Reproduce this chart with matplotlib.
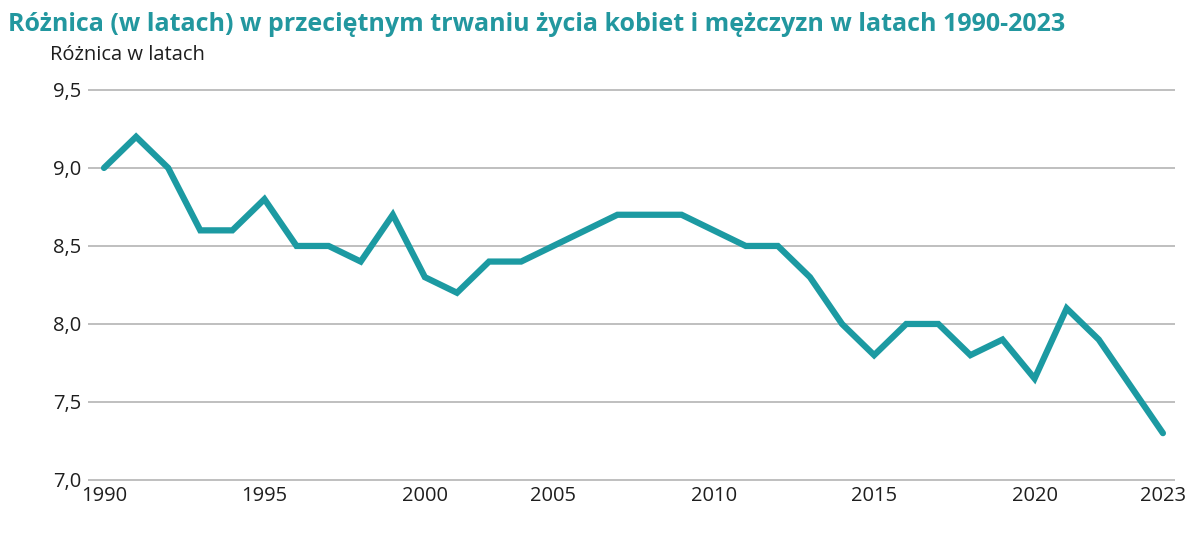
import matplotlib
matplotlib.use('Agg')
import matplotlib.pyplot as plt

TEAL = '#1c9aa2'
TITLE_TEAL = '#22979f'
GRID = '#b4b4b4'
TEXT = '#1e1e1e'

years = list(range(1990, 2024))
gap = [9.0, 9.2, 9.0, 8.6, 8.6, 8.8, 8.5, 8.5, 8.4, 8.7,
       8.3, 8.2, 8.4, 8.4, 8.5, 8.6, 8.7, 8.7, 8.7, 8.6,
       8.5, 8.5, 8.3, 8.0, 7.8, 8.0, 8.0, 7.8, 7.9, 7.65,
       8.1, 7.9, 7.6, 7.3]

# label positions as they sit in the source chart
xtick_pos = [1990, 1995, 2000, 2004, 2009, 2014, 2019, 2023]
xtick_labels = ['1990', '1995', '2000', '2005', '2010', '2015', '2020', '2023']
ytick_vals = [7.0, 7.5, 8.0, 8.5, 9.0, 9.5]
ytick_labels = ['7,0', '7,5', '8,0', '8,5', '9,0', '9,5']

title = 'Różnica (w latach) w przeciętnym trwaniu życia kobiet i mężczyzn w latach 1990-2023'
ylabel = 'Różnica w latach'

plt.rcParams['font.family'] = ['Open Sans', 'DejaVu Sans']

fig = plt.figure(figsize=(12, 5.36), dpi=100)
ax = fig.add_axes([0.0733, 0.0987, 0.9057, 0.7393])

ax.plot(years, gap, color=TEAL, linewidth=4.5, solid_joinstyle='miter',
        solid_capstyle='round', zorder=3)

ax.set_xlim(1989.5, 2023.37)
ax.set_ylim(6.98, 9.52)
ax.set_yticks(ytick_vals)
ax.set_yticklabels(ytick_labels)
ax.set_xticks(xtick_pos)
ax.set_xticklabels(xtick_labels)

ax.grid(axis='y', color=GRID, linewidth=1.2)
ax.grid(axis='x', visible=False)
ax.set_axisbelow(True)
for s in ax.spines.values():
    s.set_visible(False)
ax.tick_params(axis='both', length=0, labelsize=14.5, colors=TEXT)
ax.tick_params(axis='y', pad=5)
ax.tick_params(axis='x', pad=2)

fig.text(0.007, 0.978, title, color=TITLE_TEAL, fontsize=18,
         fontweight='bold', ha='left', va='top')
fig.text(0.042, 0.897, ylabel, color=TEXT, fontsize=14.5,
         ha='left', va='center')

fig.savefig('out.png', dpi=100, facecolor='white')
